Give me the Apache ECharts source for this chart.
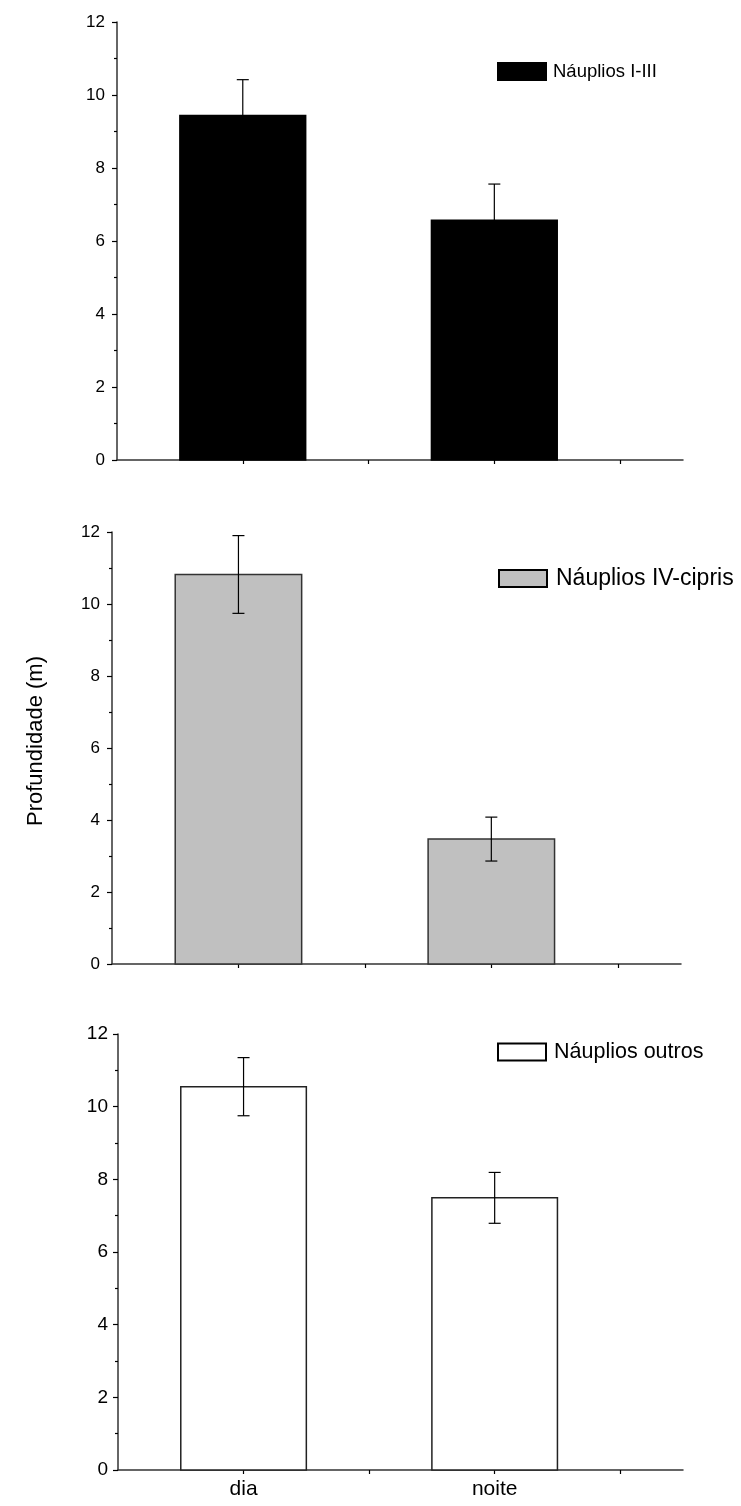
<!DOCTYPE html>
<html>
<head>
<meta charset="utf-8">
<script src="https://cdn.jsdelivr.net/npm/echarts@6/dist/echarts.min.js"></script>
<style>
html,body{margin:0;padding:0;background:#fff;}
#chart{width:741px;height:1506px;}
</style>
</head>
<body>
<div id="chart"></div>
<script>
// ---- data ----
var categories = ['dia', 'noite'];
var catPositions = [1, 2];
var seriesNames = ['Náuplios I-III', 'Náuplios IV-cipris', 'Náuplios outros'];
var naupliosI_III = [9.44, 6.57];
var errI_III = [0.98, 0.99];
var naupliosIV_cipris = [10.82, 3.47];
var errIV_cipris = [1.08, 0.61];
var naupliosOutros = [10.55, 7.49];
var errOutros = [0.80, 0.70];
var yTickValues = [0, 2, 4, 6, 8, 10, 12];
var yAxisTitle = 'Profundidade (m)';

var panelValues = [naupliosI_III, naupliosIV_cipris, naupliosOutros];
var panelErrors = [errI_III, errIV_cipris, errOutros];
var fills = ['#000000', '#c0c0c0', '#ffffff'];
var borders = ['#000000', '#333333', '#222222'];
var grids = [
  {left: 117, top: 22, width: 566, height: 438},
  {left: 112, top: 532, width: 569, height: 432},
  {left: 118, top: 1034, width: 565, height: 436}
];
var legendPos = [
  {left: 497, top: 62, font: 18.5, gap: 2},
  {left: 498, top: 567, font: 23, gap: 4},
  {left: 497, top: 1041, font: 21.5, gap: 3}
];
var tickFont = [17, 17, 19];
var BAR_WIDTH = 0.5;

var chart = echarts.init(document.getElementById('chart'));
var font = 'Liberation Sans, Arial, sans-serif';

var option = {
  animation: false,
  backgroundColor: '#fff',
  grid: grids.map(function (g) { return Object.assign({containLabel: false}, g); }),
  legend: legendPos.map(function (p, i) {
    return {
      left: p.left, top: p.top, padding: 0,
      data: [seriesNames[i]],
      itemWidth: 48, itemHeight: 17, itemGap: 6,
      icon: 'rect',
      textStyle: {fontFamily: font, fontSize: p.font, color: '#000', padding: [0, 0, 0, p.gap]},
      selectedMode: false
    };
  }),
  xAxis: grids.map(function (g, i) {
    return {
      type: 'value', gridIndex: i, min: 0.5, max: 2.75, interval: 0.5,
      splitLine: {show: false},
      axisLine: {show: true, onZero: false, lineStyle: {color: '#333', width: 1.5}},
      axisTick: {show: true, length: 4, lineStyle: {color: '#000', width: 1.2},
        customValues: [1, 1.5, 2, 2.5]},
      axisLabel: {
        show: i === 2, margin: 9, fontFamily: font, fontSize: 21, color: '#000',
        customValues: catPositions,
        formatter: function (v) {
          var k = catPositions.indexOf(v);
          return k >= 0 ? categories[k] : '';
        }
      }
    };
  }),
  yAxis: grids.map(function (g, i) {
    var ax = {
      type: 'value', gridIndex: i, min: yTickValues[0], max: yTickValues[yTickValues.length - 1], interval: 2,
      splitLine: {show: false},
      axisLine: {show: true, onZero: false, lineStyle: {color: '#333', width: 1.5}},
      axisTick: {show: true, length: 5, lineStyle: {color: '#000', width: 1.2}},
      minorTick: {show: true, splitNumber: 2, length: 3, lineStyle: {color: '#000', width: 1.2}},
      axisLabel: {margin: i === 2 ? 10 : 12, fontFamily: font, fontSize: tickFont[i], color: '#000'}
    };
    if (i === 1) {
      ax.name = yAxisTitle;
      ax.nameLocation = 'middle';
      ax.nameGap = 65;
      ax.nameTextStyle = {fontFamily: font, fontSize: 22, color: '#000', padding: [0, 0, 0, 14]};
    }
    return ax;
  }),
  series: []
};

panelValues.forEach(function (vals, i) {
  var errs = panelErrors[i];
  var barData = vals.map(function (v, k) { return [catPositions[k], v]; });
  option.series.push({
    name: seriesNames[i],
    type: 'custom',
    xAxisIndex: i, yAxisIndex: i,
    itemStyle: {color: fills[i], borderColor: '#000', borderWidth: 1},
    encode: {x: 0, y: 1},
    data: barData,
    renderItem: function (params, api) {
      var x = api.value(0), y = api.value(1);
      var top = api.coord([x, y]);
      var base = api.coord([x, 0]);
      var w = api.size([BAR_WIDTH, 0])[0];
      return {
        type: 'rect',
        shape: {x: top[0] - w / 2, y: top[1], width: w, height: base[1] - top[1]},
        style: {fill: fills[i], stroke: borders[i], lineWidth: 1.5}
      };
    },
    z: 2
  });
  option.series.push({
    name: seriesNames[i] + ' erro',
    type: 'custom',
    xAxisIndex: i, yAxisIndex: i,
    encode: {x: 0, y: [1, 2]},
    data: vals.map(function (v, k) { return [catPositions[k], v - errs[k], v + errs[k]]; }),
    renderItem: function (params, api) {
      var x = api.value(0);
      var lo = api.coord([x, api.value(1)]);
      var hi = api.coord([x, api.value(2)]);
      var cap = 6;
      var st = {stroke: '#000', lineWidth: 1.2};
      return {
        type: 'group',
        children: [
          {type: 'line', shape: {x1: hi[0], y1: hi[1], x2: lo[0], y2: lo[1]}, style: st},
          {type: 'line', shape: {x1: hi[0] - cap, y1: hi[1], x2: hi[0] + cap, y2: hi[1]}, style: st},
          {type: 'line', shape: {x1: lo[0] - cap, y1: lo[1], x2: lo[0] + cap, y2: lo[1]}, style: st}
        ]
      };
    },
    z: 3
  });
});

chart.setOption(option);
</script>
</body>
</html>
